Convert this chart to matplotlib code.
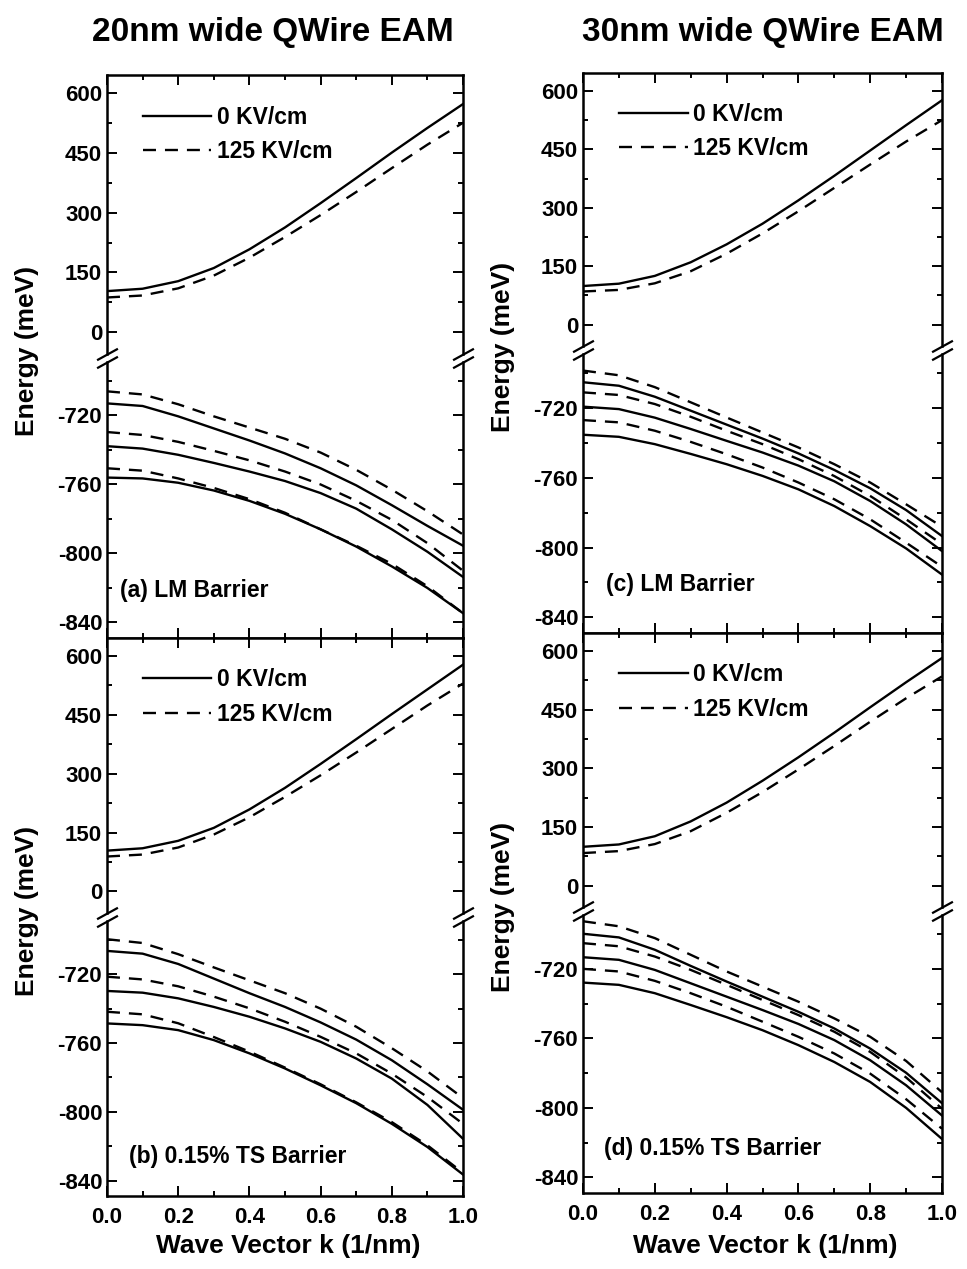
import numpy as np
import matplotlib
matplotlib.use("Agg")
import matplotlib.pyplot as plt
from matplotlib.ticker import MultipleLocator

plt.rcParams['font.family'] = ['Liberation Sans', 'DejaVu Sans']
plt.rcParams['font.weight'] = 'bold'
plt.rcParams['axes.unicode_minus'] = False

# wave vector grid (1/nm)
k = [0.0, 0.1, 0.2, 0.3, 0.4, 0.5, 0.6, 0.7, 0.8, 0.9, 1.0]

# conduction band, 0 KV/cm (solid) and 125 KV/cm (dashed)
a_cb_0 = [103, 109, 128, 161, 208, 263, 324, 387, 451, 513, 573]
a_cb_125 = [87, 92, 110, 142, 187, 239, 294, 352, 412, 471, 526]
b_cb_0 = [104, 110, 129, 162, 209, 264, 325, 388, 452, 515, 578]
b_cb_125 = [89, 94, 112, 145, 189, 241, 296, 354, 414, 474, 530]
c_cb_0 = [99, 105, 125, 160, 206, 259, 319, 382, 447, 512, 576]
c_cb_125 = [85, 89, 106, 137, 182, 234, 291, 351, 411, 470, 525]
d_cb_0 = [99, 105, 126, 164, 212, 268, 328, 391, 456, 520, 582]
d_cb_125 = [83, 88, 106, 139, 186, 239, 297, 357, 419, 479, 535]

# valence bands, three subbands each
a_vb_0 = [[-713, -714.5, -720.5, -727.5, -734.5, -742, -750.6, -760.5, -772, -784, -795.5],
          [-737.8, -739.2, -742.8, -747.5, -752.5, -758, -765, -774, -786, -799, -813.6],
          [-756, -756.5, -759, -763.5, -769.5, -777, -786, -796, -807.5, -820, -834.6]]
a_vb_125 = [[-706, -707.8, -713.5, -720.5, -727, -733.5, -741.5, -751.5, -763, -775.5, -789],
            [-729.6, -731.3, -735.3, -740.5, -746, -752.5, -760, -769.5, -780.5, -794, -810],
            [-750.6, -752, -756.5, -762, -768.5, -776.4, -786, -795.5, -806, -819, -834.6]]
b_vb_0 = [[-706.4, -708, -714, -722.5, -731, -739, -748, -758, -770, -784, -798.8],
          [-729.7, -730.7, -734, -739, -744.7, -751.5, -759.3, -769, -780.7, -796, -815.7],
          [-748.6, -749.6, -752.5, -758.3, -766, -774.8, -784.6, -795, -807, -820.5, -836.5]]
b_vb_125 = [[-699.6, -701.8, -708.3, -716, -723.5, -731, -740, -750.5, -763, -776.5, -792],
            [-721.4, -723, -727, -733, -739.8, -747.6, -756.4, -766, -777.8, -791.4, -807],
            [-741.8, -743.3, -748.5, -756.5, -765, -774.3, -784, -794.5, -806, -819.5, -835.5]]
c_vb_0 = [[-705.2, -707.2, -713.5, -721.5, -729.5, -737.5, -746, -755.5, -766, -778.5, -793.4],
          [-719.2, -720.6, -725.5, -732, -738.8, -745.5, -753, -762, -773.3, -786.7, -802],
          [-735.3, -736.5, -740.7, -746.3, -752.2, -758.9, -766.6, -776.2, -787.7, -800.5, -815.5]]
c_vb_125 = [[-698.5, -701.2, -708, -716.7, -725.4, -734, -742.6, -752.2, -762.7, -775.2, -788],
            [-711, -712.5, -717.7, -725, -733, -740.7, -749.3, -759, -770.4, -783.8, -798],
            [-726.9, -728.2, -733, -739.4, -746.5, -754.1, -762.7, -772.3, -783.8, -797.2, -811]]
d_vb_0 = [[-699.8, -701.9, -709, -718.3, -727.3, -736, -744.7, -754.3, -765.9, -779.8, -797.3],
          [-713.3, -714.8, -720.6, -728.3, -736, -743.7, -751.7, -761, -772.6, -787, -804.4],
          [-727.9, -729.2, -734, -740.8, -747.8, -755.3, -763.9, -773.6, -785.1, -800, -817.9]]
d_vb_125 = [[-692.6, -695.5, -702.3, -711.9, -721.5, -730.2, -738.9, -748.5, -759.1, -773, -791],
            [-705.2, -707, -712.9, -720.6, -729.2, -737.9, -746.6, -756.2, -767.8, -782.5, -800.5],
            [-720, -721.5, -726.9, -734, -741.8, -750.4, -759.1, -768.7, -780.3, -795, -812]]

panel_labels = ["(a) LM Barrier", "(b) 0.15% TS Barrier", "(c) LM Barrier", "(d) 0.15% TS Barrier"]
titles = ["20nm wide QWire EAM", "30nm wide QWire EAM"]
legend_labels = ["0 KV/cm", "125 KV/cm"]

W, H = 967, 1269
fig = plt.figure(figsize=(W / 100, H / 100), dpi=100)

def rect(x0, x1, ytop, ybot):
    return [x0 / W, 1 - ybot / H, (x1 - x0) / W, (ybot - ytop) / H]

LW = 1.7
DASH = (0, (5.5, 3.8))

# pixel layout: x0, x1, top, upper bottom, lower top, bottom
layout = [(107, 463, 75, 354, 362, 638),
          (107, 463, 638, 913, 921, 1196),
          (583, 942, 73, 346, 354, 633),
          (583, 942, 633, 907, 915, 1193)]
cb_data = [(a_cb_0, a_cb_125), (b_cb_0, b_cb_125), (c_cb_0, c_cb_125), (d_cb_0, d_cb_125)]
vb_data = [(a_vb_0, a_vb_125), (b_vb_0, b_vb_125), (c_vb_0, c_vb_125), (d_vb_0, d_vb_125)]
label_pos = [(120, 590), (129, 1157), (606, 585), (604, 1148)]

def style(ax):
    for s in ax.spines.values():
        s.set_linewidth(1.8)
    ax.tick_params(which='both', direction='in', top=True, right=True, width=1.4,
                   labelsize=16)
    ax.tick_params(which='major', length=7)
    ax.tick_params(which='minor', length=3.5)
    ax.xaxis.set_major_locator(MultipleLocator(0.2))
    ax.xaxis.set_minor_locator(MultipleLocator(0.1))
    ax.set_xlim(0, 1.0)

def brk(ax, y):
    d = 0.55
    kw = dict(marker=[(-1, -d), (1, d)], markersize=15, linestyle='none',
              color='k', mec='k', mew=1.6, clip_on=False, transform=ax.transAxes)
    ax.plot([0, 1], [y, y], **kw)

for i, (x0, x1, top, ub, lt, bot) in enumerate(layout):
    up = fig.add_axes(rect(x0, x1, top, ub))
    lo = fig.add_axes(rect(x0, x1, lt, bot))
    for ax in (up, lo):
        style(ax)
    up.spines['bottom'].set_visible(False)
    lo.spines['top'].set_visible(False)
    up.tick_params(which='both', bottom=False, labelbottom=False)
    lo.tick_params(which='both', top=False)
    if i in (0, 2):
        lo.tick_params(labelbottom=False)
    else:
        lo.tick_params(axis='x', pad=8)

    up.set_ylim(-55, 646)
    up.yaxis.set_major_locator(MultipleLocator(150))
    up.yaxis.set_minor_locator(MultipleLocator(75))
    lo.set_ylim(-849, -689)
    lo.yaxis.set_major_locator(MultipleLocator(40))
    lo.yaxis.set_minor_locator(MultipleLocator(20))

    cb0, cb125 = cb_data[i]
    up.plot(k, cb0, color='k', lw=LW, label=legend_labels[0])
    up.plot(k, cb125, color='k', lw=LW, linestyle=DASH, label=legend_labels[1])
    up.legend(loc='upper left', bbox_to_anchor=(0.10, 0.89), frameon=False,
              fontsize=16.5, handlelength=3.0, handletextpad=0.25,
              labelspacing=0.5, borderpad=0, borderaxespad=0)

    vb0, vb125 = vb_data[i]
    for s in vb0:
        lo.plot(k, s, color='k', lw=LW)
    for s in vb125:
        lo.plot(k, s, color='k', lw=LW, linestyle=DASH)

    brk(up, 0)
    brk(lo, 1)

    lx, ly = label_pos[i]
    fig.text(lx / W, 1 - ly / H, panel_labels[i], fontsize=16.5, va='center', ha='left')

    ycen = (top + bot) / 2 - 6
    fig.text((x0 - 80) / W, 1 - ycen / H, "Energy (meV)", rotation=90,
             fontsize=19, ha='center', va='center')

for cx, t in zip([273, 763], titles):
    fig.text(cx / W, 1 - 32 / H, t, fontsize=24, ha='center', va='center')
for cx in [288, 765]:
    fig.text(cx / W, 1 - 1246 / H, "Wave Vector k (1/nm)", fontsize=19,
             ha='center', va='center')

fig.savefig("out.png", dpi=100)
